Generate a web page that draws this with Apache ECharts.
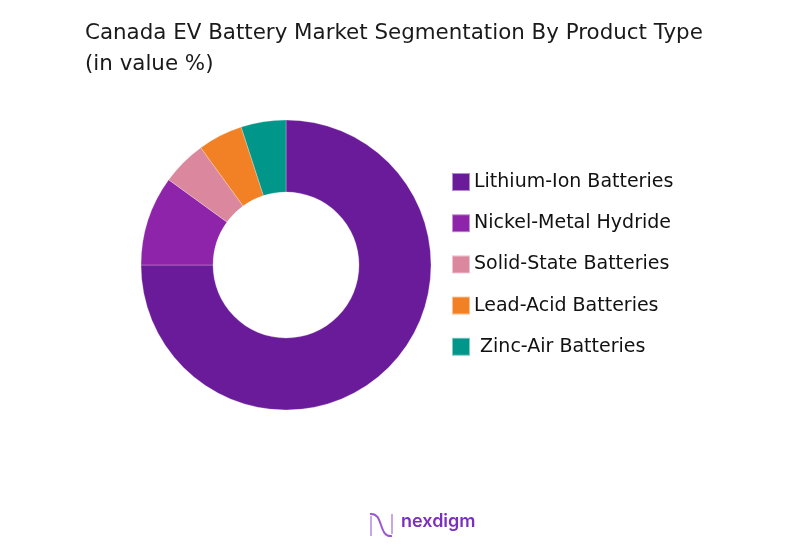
<!DOCTYPE html>
<html><head><meta charset="utf-8">
<script src="https://cdn.jsdelivr.net/npm/echarts@6/dist/echarts.min.js"></script>
<style>html,body{margin:0;padding:0;background:#fff}#c{width:804px;height:559px}</style>
</head><body><div id="c"></div>
<script>
const categories = ["Lithium-Ion Batteries","Nickel-Metal Hydride","Solid-State Batteries","Lead-Acid Batteries"," Zinc-Air Batteries"];
const values = [75, 10, 5, 5, 5];
const colors = ["#6A1B9A","#8E24AA","#DB889E","#F28024","#00968A"];
const titleText = "Canada EV Battery Market Segmentation By Product Type\n(in value %)";

const chart = echarts.init(document.getElementById('c'));
chart.setOption({
  animation: false,
  title: {
    text: titleText, left: 80, top: 13,
    textStyle: {fontFamily: "DejaVu Sans", fontWeight: "normal", fontSize: 21.4, color: "#1a1a1a", lineHeight: 31}
  },
  legend: {
    orient: "vertical", left: 446, top: 167,
    itemWidth: 18, itemHeight: 18, itemGap: 21.2,
    icon: "rect",
    textStyle: {fontFamily: "DejaVu Sans", fontSize: 19, lineHeight: 18, color: "#111", padding: [0,0,0,-1]},
    data: categories
  },
  series: [{
    type: "pie",
    center: [286, 265],
    radius: [73, 145],
    startAngle: 90,
    clockwise: true,
    label: {show: false},
    labelLine: {show: false},
    itemStyle: {borderColor: "rgba(255,255,255,0.5)", borderWidth: 0.5},
    data: categories.map((n,i)=>({name:n, value:values[i], itemStyle:{color:colors[i]}}))
  }],
  graphic: [
    {type: "bezierCurve", shape: {x1: 370, y1: 514, x2: 392, y2: 536, cpx1: 384, cpy1: 512, cpx2: 378, cpy2: 538}, style: {stroke: "#9B59D0", lineWidth: 2, fill: null}},
    {type: "line", shape: {x1: 371, y1: 516, x2: 371, y2: 536}, style: {stroke: "#B58AE0", lineWidth: 1.5}},
    {type: "line", shape: {x1: 392, y1: 514, x2: 392, y2: 534}, style: {stroke: "#B58AE0", lineWidth: 1.5}},
    {type: "text", left: 401, top: 513, style: {text: "nexdigm", fontFamily: "Inter", fontWeight: 600, fontSize: 18, fill: "#7B2FBE"}}
  ]
});
</script></body></html>
